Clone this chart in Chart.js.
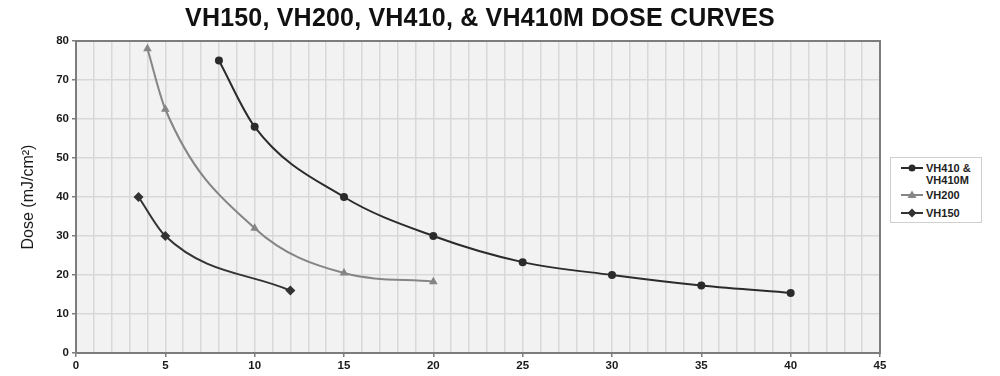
<!DOCTYPE html>
<html>
<head>
<meta charset="utf-8">
<script src="https://cdn.jsdelivr.net/npm/chart.js@4.4.1/dist/chart.umd.min.js"></script>
<style>
  html, body { margin: 0; padding: 0; background: #fff; }
  #wrap { position: relative; width: 1000px; height: 376px; }
  #title { position: absolute; left: 0; width: 960px; top: 2px; text-align: center; letter-spacing: 0.2px;
    font-family: "Liberation Sans", Arial, sans-serif; font-weight: bold; font-size: 25px; color: #111; line-height: 30px; }
  #legend { position: absolute; left: 890px; top: 157px; width: 90px; height: 64px; border: 1px solid #cfcfcf; background: #fff;
    font-family: "Liberation Sans", Arial, sans-serif; font-size: 11px; font-weight: bold; color: #222; }
  .item { position: absolute; left: 10px; display: flex; align-items: flex-start; }
  .item svg { flex: none; margin-right: 3px; }
  .item span { line-height: 12px; }
</style>
</head>
<body>
<div id="wrap">
  <canvas id="c" width="1000" height="376"></canvas>
  <div id="title">VH150, VH200, VH410, &amp; VH410M DOSE CURVES</div>
  <div id="legend"></div>
</div>
<script>
// ---- data ----
const seriesNames = ["VH410 & VH410M", "VH200", "VH150"];
const legendLines = [["VH410 &", "VH410M"], ["VH200"], ["VH150"]];
const vh410X = [8, 10, 15, 20, 25, 30, 35, 40];
const vh410Y = [75, 58, 40, 30, 23.3, 20, 17.3, 15.4];
const vh200X = [4, 5, 10, 15, 20];
const vh200Y = [78, 62.5, 32, 20.5, 18.3];
const vh150X = [3.5, 5, 12];
const vh150Y = [40, 30, 16];
const xTickLabels = [0, 5, 10, 15, 20, 25, 30, 35, 40, 45];
const yTickLabels = [0, 10, 20, 30, 40, 50, 60, 70, 80];
const yAxisTitle = "Dose (mJ/cm\u00B2)";

const pts = (xs, ys) => xs.map((x, i) => ({ x: x, y: ys[i] }));
const colors = ["#2b2b2b", "#858585", "#333333"];
const markers = ["circle", "triangle", "rectRot"];
const radii = [4, 5, 5];

const datasets = [
  { label: seriesNames[0], data: pts(vh410X, vh410Y) },
  { label: seriesNames[1], data: pts(vh200X, vh200Y) },
  { label: seriesNames[2], data: pts(vh150X, vh150Y) }
].map((d, i) => Object.assign(d, {
  showLine: true, cubicInterpolationMode: 'monotone', tension: 0.4,
  borderColor: colors[i], backgroundColor: colors[i],
  borderWidth: 2, pointStyle: markers[i], pointRadius: radii[i], pointHoverRadius: radii[i],
  pointBorderWidth: 0, fill: false
}));

const plotFrame = {
  id: 'plotFrame',
  beforeDraw(chart) {
    const a = chart.chartArea, ctx = chart.ctx;
    ctx.save(); ctx.fillStyle = '#f2f2f3';
    ctx.fillRect(a.left, a.top, a.right - a.left, a.bottom - a.top);
    ctx.restore();
  },
  beforeDatasetsDraw(chart) {
    const a = chart.chartArea, ctx = chart.ctx;
    ctx.save(); ctx.strokeStyle = '#7d7d7d'; ctx.lineWidth = 2;
    ctx.strokeRect(a.left, a.top, a.right - a.left, a.bottom - a.top);
    ctx.restore();
  }
};

const tickFont = { family: "'Liberation Sans', Arial, sans-serif", size: 11.5, weight: 'bold' };

new Chart(document.getElementById('c'), {
  type: 'scatter',
  data: { datasets: datasets },
  plugins: [plotFrame],
  options: {
    responsive: false, animation: false,
    layout: { padding: { top: 41, right: 120, left: 0, bottom: 0 } },
    plugins: { legend: { display: false }, tooltip: { enabled: false } },
    scales: {
      x: {
        type: 'linear', min: 0, max: 45,
        afterFit: s => { s.height = 23; },
        afterBuildTicks: s => { s.ticks = Array.from({ length: 46 }, (_, i) => ({ value: i })); },
        ticks: { autoSkip: false, maxRotation: 0, padding: 2, color: '#1a1a1a', font: tickFont,
          callback: v => xTickLabels.includes(v) ? String(v) : '' },
        grid: { color: '#d8d8d8', lineWidth: 1.5, tickLength: 4,
          tickColor: c => (c.tick && xTickLabels.includes(c.tick.value)) ? '#7d7d7d' : 'rgba(0,0,0,0)' },
        border: { color: '#7d7d7d', width: 2 }
      },
      y: {
        type: 'linear', min: 0, max: 80,
        afterFit: s => { s.width = 76; },
        afterBuildTicks: s => { s.ticks = yTickLabels.map(v => ({ value: v })); },
        ticks: { padding: 3, color: '#1a1a1a', font: tickFont },
        grid: { color: '#d8d8d8', lineWidth: 1.5, tickLength: 4, tickColor: '#7d7d7d' },
        border: { color: '#7d7d7d', width: 2 },
        title: { display: true, text: yAxisTitle, color: '#1a1a1a', padding: { top: 19, bottom: 0 },
          font: { family: "'Liberation Sans', Arial, sans-serif", size: 16 } }
      }
    }
  }
});

// legend (HTML)
const lg = document.getElementById('legend');
const tops = [4, 31, 49];
legendLines.forEach((lines, i) => {
  const it = document.createElement('div');
  it.className = 'item'; it.style.top = tops[i] + 'px';
  let mk = '';
  if (markers[i] === 'circle') mk = `<circle cx="11" cy="6" r="3.5" fill="${colors[i]}"/>`;
  if (markers[i] === 'triangle') mk = `<polygon points="11,1.5 15.5,9 6.5,9" fill="${colors[i]}"/>`;
  if (markers[i] === 'rectRot') mk = `<polygon points="11,1.5 15.5,6 11,10.5 6.5,6" fill="${colors[i]}"/>`;
  it.innerHTML = `<svg width="22" height="12"><line x1="0" y1="6" x2="22" y2="6" stroke="${colors[i]}" stroke-width="2"/>${mk}</svg><span>${lines.join('<br>')}</span>`;
  lg.appendChild(it);
});
</script>
</body>
</html>
